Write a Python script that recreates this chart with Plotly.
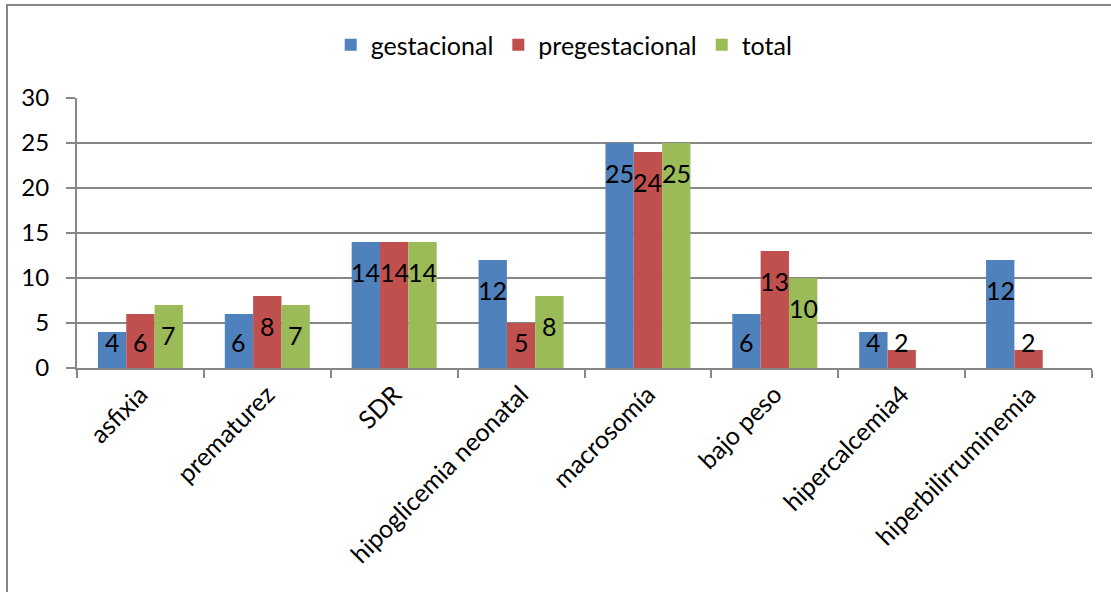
import plotly.graph_objects as go

# Neonatal complications by type of maternal diabetes
categories = ["asfixia", "prematurez", "SDR", "hipoglicemia neonatal",
              "macrosomía", "bajo peso", "hipercalcemia4", "hiperbilirruminemia"]
gestacional = [4, 6, 14, 12, 25, 6, 4, 12]
pregestacional = [6, 8, 14, 5, 24, 13, 2, 2]
total = [7, 7, 14, 8, 25, 10, None, None]
y_ticks = [0, 5, 10, 15, 20, 25, 30]

series = [
    ("gestacional", gestacional, "#4F81BD"),
    ("pregestacional", pregestacional, "#C0504D"),
    ("total", total, "#9BBB59"),
]

FONT = "Lato"
AXIS_GRAY = "#878787"

W, H = 1111, 592
ML, MR, MT, MB = 77, 19, 98, 224
BARGAP = 0.33

plot_w = W - ML - MR
plot_h = H - MT - MB
slot_px = plot_w / len(categories)
bar_px = slot_px * (1 - BARGAP) / len(series)

fig = go.Figure()
for name, vals, color in series:
    fig.add_trace(go.Bar(
        name=name, x=categories, y=vals,
        marker=dict(color=color, line=dict(width=0)),
    ))

# value labels sit just inside the top of each bar, kept off the baseline for short bars
annotations = []
for i, (name, vals, color) in enumerate(series):
    shift = (i - (len(series) - 1) / 2) * bar_px
    for cat, v in zip(categories, vals):
        if v is None:
            continue
        annotations.append(dict(
            x=cat, y=max(v - 3.35, 2.9), xref="x", yref="y",
            text=str(v), showarrow=False, xshift=shift,
            xanchor="center", yanchor="middle",
            font=dict(family=FONT, size=25, color="black"),
        ))

# chart border (left and top edges visible; right and bottom run past the page)
fig.add_shape(
    type="rect", xref="paper", yref="paper",
    x0=(7 - ML) / plot_w, x1=(1116 - ML) / plot_w,
    y0=(H - MB - 600) / plot_h, y1=(H - MB - 5) / plot_h,
    line=dict(color=AXIS_GRAY, width=2), fillcolor="rgba(0,0,0,0)", layer="below",
)

fig.update_layout(
    width=W, height=H,
    margin=dict(l=ML, r=MR, t=MT, b=MB, pad=0),
    paper_bgcolor="white", plot_bgcolor="white",
    barmode="group", bargap=BARGAP, bargroupgap=0,
    font=dict(family=FONT, size=24, color="black"),
    annotations=annotations,
    showlegend=True,
    legend=dict(
        orientation="h", x=0.48, xanchor="center",
        y=(H - MB - 45) / plot_h, yanchor="middle",
        font=dict(family=FONT, size=25, color="black"),
        itemwidth=30, bgcolor="rgba(0,0,0,0)",
    ),
    xaxis=dict(
        type="category", tickangle=-45,
        showline=True, linecolor=AXIS_GRAY, linewidth=2,
        ticks="outside", tickson="boundaries", ticklen=8,
        tickcolor=AXIS_GRAY, tickwidth=2,
        tickfont=dict(family=FONT, size=25, color="black"),
        showgrid=False, zeroline=False,
    ),
    yaxis=dict(
        range=[0, 30], tickvals=y_ticks,
        showline=True, linecolor=AXIS_GRAY, linewidth=2,
        ticks="outside", ticklen=9, tickcolor=AXIS_GRAY, tickwidth=2,
        ticklabelstandoff=12,
        tickfont=dict(family=FONT, size=24, color="black"),
        showgrid=True, gridcolor=AXIS_GRAY, gridwidth=2,
        zeroline=False,
    ),
)

fig.write_html("out.html")
